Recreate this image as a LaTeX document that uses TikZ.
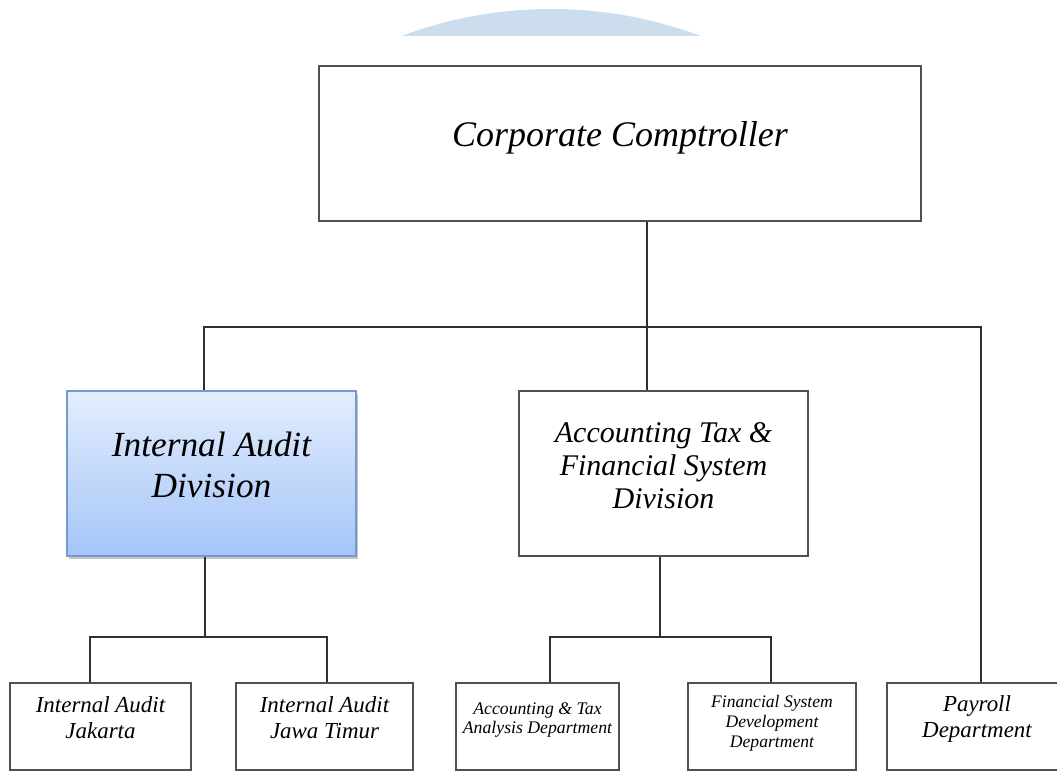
\documentclass[tikz,border=0pt]{standalone}
\usepackage{fontspec}
\setmainfont{Liberation Serif}
\usetikzlibrary{shadows}
\definecolor{wmblue}{HTML}{CCDDEE}
\definecolor{linegray}{HTML}{303030}
\definecolor{boxgray}{HTML}{505050}
\definecolor{iatop}{HTML}{E3EDFC}
\definecolor{iabot}{HTML}{A5C5F9}
\definecolor{iaborder}{HTML}{7399CF}
\tikzset{
  box/.style={draw=boxgray, line width=1.1pt, fill=white, rectangle, inner sep=0pt},
  iabox/.style={draw=iaborder, line width=1.1pt, rectangle, inner sep=0pt,
    top color=iatop, bottom color=iabot,
    drop shadow={shadow xshift=1.5pt, shadow yshift=-2pt, fill=black!45, opacity=0.5}},
  conn/.style={draw=linegray, line width=1.4pt},
  txt/.style={align=center, inner sep=0pt, font=\itshape},
}
\begin{document}
\begin{tikzpicture}[x=0.75pt,y=-0.75pt]
\useasboundingbox (0,0) rectangle (1057,772);
% watermark arc
\begin{scope}
\clip (0,0) rectangle (1057,35);
\fill[wmblue] (551,435) circle (426);
\end{scope}
% boxes
\node[box, minimum width=451.5pt, minimum height=116.25pt] (cc) at (620,143.5) {};
\node[iabox, minimum width=216.75pt, minimum height=123.75pt] (ia) at (211.5,473.5) {};
\node[box, minimum width=216.75pt, minimum height=123.75pt] (acc) at (663.5,473.5) {};
\node[box, minimum width=135.75pt, minimum height=65.25pt] (jkt) at (100.5,726.5) {};
\node[box, minimum width=132.75pt, minimum height=65.25pt] (jtm) at (324.5,726.5) {};
\node[box, minimum width=122.25pt, minimum height=65.25pt] (ata) at (537.5,726.5) {};
\node[box, minimum width=126pt, minimum height=65.25pt] (fsd) at (772,726.5) {};
\node[box, minimum width=135pt, minimum height=65.25pt] (pay) at (977,726.5) {};
% texts
\node[txt, font=\itshape\fontsize{27}{30}\selectfont] (tcc) at (620,138) {Corporate Comptroller};
\node[txt, font=\itshape\fontsize{26.5}{30.75}\selectfont] (tia) at (211.5,465) {Internal Audit\\Division};
\node[txt, font=\itshape\fontsize{22.5}{24.75}\selectfont] (tacc) at (663.5,466) {Accounting Tax \&\\Financial System\\Division};
\node[txt, font=\itshape\fontsize{17.2}{19.5}\selectfont] (tjkt) at (100.5,718) {Internal Audit\\Jakarta};
\node[txt, font=\itshape\fontsize{17.2}{19.5}\selectfont] (tjtm) at (324.5,718) {Internal Audit\\Jawa Timur};
\node[txt, font=\itshape\fontsize{13.3}{14.25}\selectfont] (tata) at (537.5,720.5) {Accounting \& Tax\\Analysis Department};
\node[txt, font=\itshape\fontsize{13.2}{15}\selectfont] (tfsd) at (772,723) {Financial System\\Development\\Department};
\node[txt, font=\itshape\fontsize{17.2}{19.5}\selectfont] (tpay) at (977,719) {Payroll\\Department};
% junction coordinates
\coordinate (bus) at (647,327);
\coordinate (busL) at (204,327);
\coordinate (busR) at (981,327);
\coordinate (iaj) at (205,637);
\coordinate (iajL) at (90,637);
\coordinate (iajR) at (327,637);
\coordinate (accj) at (660,637);
\coordinate (accjL) at (550,637);
\coordinate (accjR) at (771,637);
% connectors
\draw[conn] (cc.south -| bus) -- (bus);
\draw[conn] (ia.north -| busL) -- (busL) -- (busR) -- (pay.north -| busR);
\draw[conn] (bus) -- (acc.north -| bus);
\draw[conn] (ia.south -| iaj) -- (iaj);
\draw[conn] (jkt.north -| iajL) -- (iajL) -- (iajR) -- (jtm.north -| iajR);
\draw[conn] (acc.south -| accj) -- (accj);
\draw[conn] (ata.north -| accjL) -- (accjL) -- (accjR) -- (fsd.north -| accjR);
\end{tikzpicture}
\end{document}
